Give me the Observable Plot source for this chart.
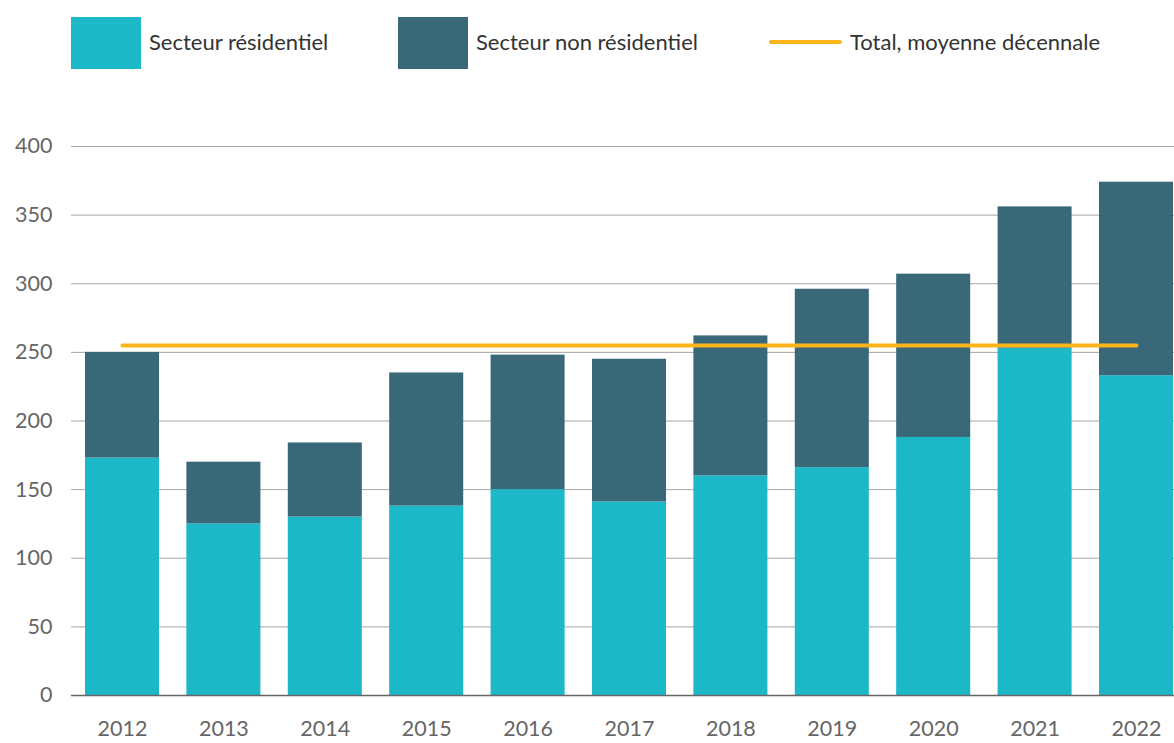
<!DOCTYPE html>
<html><head><meta charset="utf-8">
<script src="https://cdn.jsdelivr.net/npm/d3@7"></script>
<script src="https://cdn.jsdelivr.net/npm/@observablehq/plot@0.6"></script>
<style>
body{margin:0;background:#fff;font-family:Lato,"Open Sans",sans-serif;}
#legend{position:relative;height:100px;width:1174px;}
.sw{position:absolute;top:17px;width:70px;height:52px;}
.ln{position:absolute;top:40px;width:73px;height:4px;border-radius:2px;}
.lt{position:absolute;top:41px;transform:translateY(-50%);font-size:22px;color:#333;white-space:nowrap;}
#chart svg{display:block;}
</style></head><body>
<div id="legend"></div><div id="chart"></div>
<script>
const years = ["2012","2013","2014","2015","2016","2017","2018","2019","2020","2021","2022"];
const residential = [173,125,130,138,150,141,160,166,188,253,233];
const nonResidential = [77,45,54,97,98,104,102,130,119,103,141];
const decadeAverage = 255;
const yTicks = [0,50,100,150,200,250,300,350,400];
const seriesNames = ["Secteur résidentiel","Secteur non résidentiel"];
const lineName = "Total, moyenne décennale";
const colors = ["#1cb8c8","#396879"];
const avgColor = "#fbb41a";

// legend
const legend = document.getElementById("legend");
const legendItems = [
  {type:"sw", x:71, tx:149, color:colors[0], label:seriesNames[0]},
  {type:"sw", x:398, tx:476, color:colors[1], label:seriesNames[1]},
  {type:"ln", x:769, tx:850, color:avgColor, label:lineName}
];
for (const it of legendItems) {
  const s = document.createElement("div");
  s.className = it.type; s.style.left = it.x + "px"; s.style.background = it.color;
  legend.appendChild(s);
  const t = document.createElement("div");
  t.className = "lt"; t.style.left = it.tx + "px"; t.textContent = it.label;
  legend.appendChild(t);
}

const rows = [];
years.forEach((y,i) => {
  rows.push({year:y, series:seriesNames[0], value:residential[i]});
  rows.push({year:y, series:seriesNames[1], value:nonResidential[i]});
});
const avgRows = [{year:years[0], value:decadeAverage},{year:years[years.length-1], value:decadeAverage}];

const chart = Plot.plot({
  width:1174, height:643,
  marginLeft:71, marginRight:0, marginTop:46, marginBottom:48,
  style:{fontFamily:"Lato, 'Open Sans', sans-serif", fontSize:"21px", color:"#666", background:"#fff"},
  x:{domain:years, range:[71.3,1186.7], paddingInner:0.27, paddingOuter:0.135, round:false, label:null},
  y:{domain:[0,400], label:null},
  color:{domain:seriesNames, range:colors},
  marks:[
    Plot.gridY(yTicks, {stroke:"#a6a6a6", strokeOpacity:1, strokeWidth:1}),
    Plot.axisY(yTicks, {tickSize:0, tickPadding:19, label:null, fill:"#666", fontSize:21.5}),
    Plot.axisX({tickSize:0, tickPadding:25, label:null, fill:"#666", fontSize:21.5}),
    Plot.barY(rows, {x:"year", y:"value", fill:"series", order:seriesNames}),
    Plot.ruleY([0], {stroke:"#666", strokeWidth:1.5}),
    Plot.lineY(avgRows, {x:"year", y:"value", stroke:avgColor, strokeWidth:4, strokeLinecap:"round"})
  ]
});
document.getElementById("chart").appendChild(chart);
</script>
</body></html>
